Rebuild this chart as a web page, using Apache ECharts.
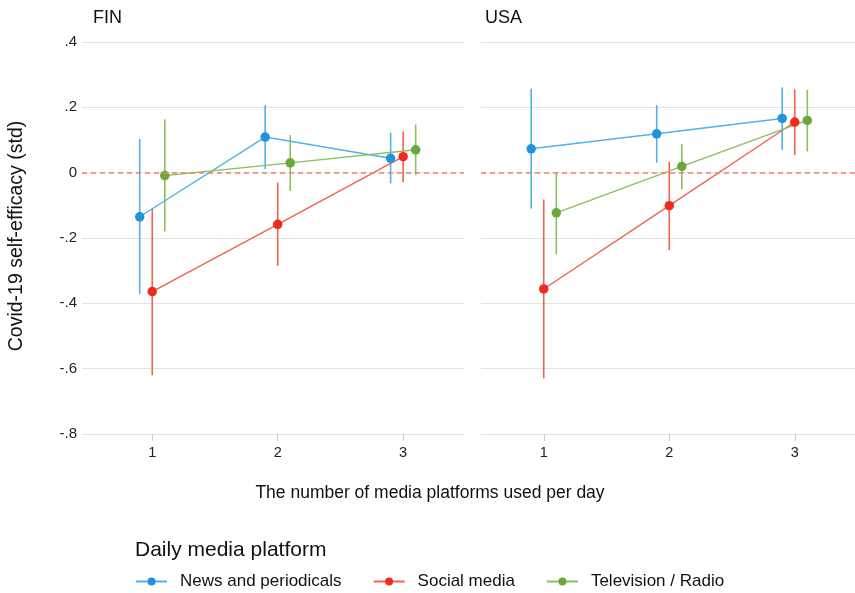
<!DOCTYPE html>
<html>
<head>
<meta charset="utf-8">
<script src="https://cdn.jsdelivr.net/npm/echarts@6/dist/echarts.min.js"></script>
<style>
html,body{margin:0;padding:0;background:#fff;}
#chart{width:855px;height:593px;}
</style>
</head>
<body>
<div id="chart"></div>
<script>
// ---- data ----
const xCats = [1, 2, 3];
const xTickLabels = ['1', '2', '3'];
const panels = ['FIN', 'USA'];
const platforms = ['News and periodicals', 'Social media', 'Television / Radio'];
const dodge = [-0.1, 0, 0.1];

const finNews     = [-0.135, 0.109, 0.044];
const finNewsLo   = [-0.371, 0.011, -0.033];
const finNewsHi   = [0.103, 0.206, 0.123];
const finSocial   = [-0.364, -0.158, 0.049];
const finSocialLo = [-0.620, -0.285, -0.029];
const finSocialHi = [-0.109, -0.030, 0.126];
const finTv       = [-0.009, 0.030, 0.070];
const finTvLo     = [-0.180, -0.056, -0.008];
const finTvHi     = [0.163, 0.115, 0.147];

const usaNews     = [0.073, 0.119, 0.166];
const usaNewsLo   = [-0.110, 0.030, 0.070];
const usaNewsHi   = [0.257, 0.207, 0.261];
const usaSocial   = [-0.356, -0.101, 0.155];
const usaSocialLo = [-0.630, -0.237, 0.054];
const usaSocialHi = [-0.082, 0.033, 0.255];
const usaTv       = [-0.123, 0.019, 0.160];
const usaTvLo     = [-0.250, -0.051, 0.065];
const usaTvHi     = [0.002, 0.087, 0.254];

// ---- styles ----
const pointColors = ['#2492d9', '#ee2b1f', '#6aa83c'];
const lineColors  = ['#4fb2e8', '#f2624e', '#8bbf5f'];
const FONT = '"Liberation Sans", Arial, Helvetica, sans-serif';

const panelData = [
  [[finNews, finNewsLo, finNewsHi], [finSocial, finSocialLo, finSocialHi], [finTv, finTvLo, finTvHi]],
  [[usaNews, usaNewsLo, usaNewsHi], [usaSocial, usaSocialLo, usaSocialHi], [usaTv, usaTvLo, usaTvHi]]
];

const series = [];
panelData.forEach((pd, pi) => {
  pd.forEach((trip, j) => {
    const [v, lo, hi] = trip;
    series.push({
      type: 'custom',
      xAxisIndex: pi, yAxisIndex: pi,
      z: 2,
      data: xCats.map((c, k) => [c + dodge[j], lo[k], hi[k]]),
      encode: { x: 0, y: [1, 2] },
      renderItem: function (params, api) {
        const a = api.coord([api.value(0), api.value(1)]);
        const b = api.coord([api.value(0), api.value(2)]);
        return {
          type: 'line',
          shape: { x1: a[0], y1: a[1], x2: b[0], y2: b[1] },
          style: { stroke: lineColors[j], lineWidth: 1.6 }
        };
      },
      markLine: j === 0 ? {
        silent: true, symbol: 'none', label: { show: false },
        lineStyle: { type: [5, 4], color: '#f2806c', width: 1.6 },
        data: [{ yAxis: 0 }]
      } : undefined
    });
  });
  pd.forEach((trip, j) => {
    const [v] = trip;
    series.push({
      type: 'line',
      name: platforms[j],
      xAxisIndex: pi, yAxisIndex: pi,
      z: 3,
      data: xCats.map((c, k) => [c + dodge[j], v[k]]),
      symbol: 'circle',
      symbolSize: 9.5,
      showSymbol: true,
      itemStyle: { color: pointColors[j] },
      lineStyle: { color: lineColors[j], width: 1.4 },
      emphasis: { disabled: true },
      animation: false
    });
  });
});

function yFmt(v) {
  if (Math.abs(v) < 1e-9) return '0';
  return v.toFixed(1).replace('0.', '.');
}

const xAxisCommon = {
  type: 'value',
  axisLine: { show: false, onZero: false },
  splitLine: { show: false },
  axisTick: { show: true, customValues: xCats, length: 7, lineStyle: { color: '#cccccc', width: 1 } },
  axisLabel: {
    customValues: xCats,
    formatter: v => xTickLabels[xCats.indexOf(Math.round(v))] || '',
    color: '#222', fontSize: 14.5, fontFamily: FONT, margin: 11
  }
};

const option = {
  animation: false,
  backgroundColor: '#ffffff',
  textStyle: { fontFamily: FONT },
  title: [
    { text: panels[0], left: 88, top: 4, textStyle: { fontSize: 18, fontWeight: 'normal', color: '#111', fontFamily: FONT } },
    { text: panels[1], left: 480, top: 4, textStyle: { fontSize: 18, fontWeight: 'normal', color: '#111', fontFamily: FONT } },
    { text: 'Daily media platform', left: 135, top: 540, padding: 0, textStyle: { fontSize: 21, fontWeight: 'normal', color: '#111', fontFamily: FONT } }
  ],
  grid: [
    { left: 82, top: 42, width: 382, height: 392 },
    { left: 481, top: 42, width: 374, height: 392 }
  ],
  xAxis: [
    Object.assign({ gridIndex: 0, min: 0.44, max: 3.485 }, xAxisCommon),
    Object.assign({ gridIndex: 1, min: 0.5, max: 3.48 }, xAxisCommon)
  ],
  yAxis: [0, 1].map(i => ({
    type: 'value',
    gridIndex: i,
    min: -0.8, max: 0.4, interval: 0.2,
    axisLine: { show: false },
    axisTick: { show: false },
    axisLabel: { show: i === 0, formatter: yFmt, color: '#222', fontSize: 15, fontFamily: FONT, margin: 5 },
    splitLine: { show: true, lineStyle: { color: '#e3e3e3', width: 1.2 } }
  })),
  legend: {
    data: platforms,
    left: 135, top: 573, padding: 0,
    itemWidth: 31, itemHeight: 10, itemGap: 31,
    textStyle: { fontSize: 17, color: '#111', fontFamily: FONT, padding: [0, 0, 0, 8] }
  },
  graphic: [
    {
      type: 'text', x: 430, y: 493,
      style: { text: 'The number of media platforms used per day', fontSize: 17.5, fill: '#111', fontFamily: FONT, align: 'center', verticalAlign: 'middle' }
    },
    {
      type: 'text', x: 17, y: 236, rotation: Math.PI / 2,
      style: { text: 'Covid-19 self-efficacy (std)', fontSize: 19.5, fill: '#111', fontFamily: FONT, align: 'center', verticalAlign: 'middle' }
    }
  ],
  series: series
};

const chart = echarts.init(document.getElementById('chart'), null, { renderer: 'canvas' });
chart.setOption(option);
</script>
</body>
</html>
